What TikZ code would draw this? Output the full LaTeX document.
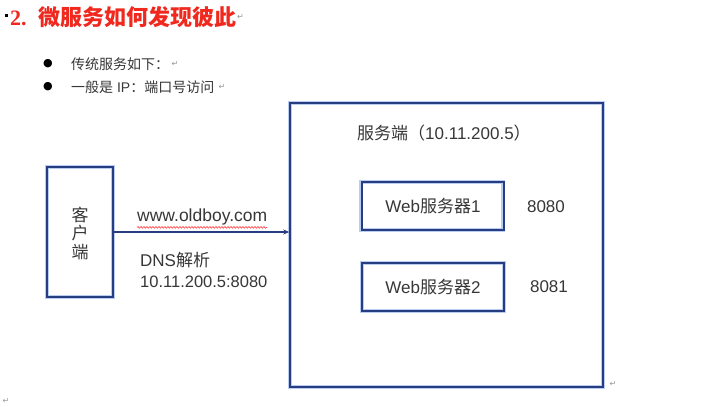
\documentclass[tikz,border=0pt]{standalone}
\usepackage{fontspec}
\setmainfont{Liberation Sans}
\newfontfamily\cjk{Noto Sans CJK SC}
\newfontfamily\titleserif{Liberation Serif}
\newfontfamily\symf{DejaVu Sans}
\usetikzlibrary{arrows.meta,decorations.pathmorphing}
\definecolor{boxblue}{RGB}{40,60,130}
\definecolor{glow}{RGB}{185,205,240}
\definecolor{txt}{RGB}{55,55,55}
\definecolor{titlered}{RGB}{240,40,30}
\definecolor{mark}{RGB}{150,150,150}
\tikzset{
  boxglow/.style={draw=glow, line width=4pt},
  boxline/.style={draw=boxblue, line width=1.6pt},
  lbl/.style={text=txt, inner sep=0pt, font=\fontsize{17}{19}\selectfont},
  smalllbl/.style={text=txt, inner sep=0pt, font=\fontsize{14}{16}\selectfont},
  conn/.style={draw=boxblue, line width=1.4pt, -{Stealth[length=6pt,width=5pt]}},
  retmark/.style={text=mark, inner sep=0pt, font=\symf\fontsize{8}{9}\selectfont},
}
\begin{document}
\begin{tikzpicture}[x=1pt,y=-1pt]
\fill[white] (0,0) rectangle (702,407);
\useasboundingbox (0,0) rectangle (702,407);
% title
\fill[black] (4.5,13.5) rectangle (7.5,16.5);
\node[anchor=west, inner sep=0pt, text=titlered, font=\fontsize{22}{25}\selectfont] (title) at (10,17)
  {{\titleserif\bfseries 2.}\hspace{12pt}{\cjk\bfseries 微服务如何发现彼此}};
\node[retmark, anchor=west] (rt) at (title.east) {↵};
% bullets
\node[inner sep=0pt, font=\symf\fontsize{11}{12}\selectfont] (b1) at (48,64) {●};
\node[inner sep=0pt, font=\symf\fontsize{11}{12}\selectfont] (b2) at (48,87) {●};
\node[smalllbl, anchor=west] (t1) at (71,64) {\cjk 传统服务如下：};
\node[smalllbl, anchor=west] (t2) at (71,87) {{\cjk 一般是} IP{\cjk ：端口号访问}};
\node[retmark, anchor=west] at ([xshift=2pt]t1.east) {↵};
\node[retmark, anchor=west] at ([xshift=4pt]t2.east) {↵};
% boxes
\foreach \n/\x/\y/\w/\h in {client/80/232/66/130, server/446.5/245/313/284, webA/432/206/142/48, webB/433/287/142/48}{
  \path[boxglow] (\x-\w/2,\y-\h/2) rectangle (\x+\w/2,\y+\h/2);
}
\node[boxline, minimum width=66pt, minimum height=130pt, inner sep=0pt] (client) at (80,232) {};
\node[boxline, minimum width=313pt, minimum height=284pt, inner sep=0pt] (server) at (446.5,245) {};
\node[boxline, minimum width=142pt, minimum height=48pt, inner sep=0pt, lbl] (web1) at (433,206) {Web{\cjk 服务器}1};
\node[boxline, minimum width=142pt, minimum height=48pt, inner sep=0pt, lbl] (web2) at (433,287) {Web{\cjk 服务器}2};
\node[lbl, align=center, font=\cjk\fontsize{17}{18.5}\selectfont] (clienttxt) at (80,233) {客\\户\\端};
\node[lbl] (p1) at (546,207) {8080};
\node[lbl] (p2) at (549,287) {8081};
\node[lbl, anchor=west] (srvtxt) at (357,133) {{\cjk 服务端（}10.11.200.5{\cjk ）}};
\node[retmark] at (613,384) {↵};
\node[retmark] at (6,401) {↵};
% connector
\draw[conn] (client.east) -- (client.east -| server.west);
\node[lbl, anchor=west, font=\fontsize{17.5}{19}\selectfont] (url) at (137,217) {www.oldboy.com};
\draw[red!80, line width=0.6pt, decorate, decoration={snake, amplitude=0.8pt, segment length=3pt}]
  ([yshift=-2pt]url.south west) -- ([yshift=-2pt]url.south east);
\node[lbl, anchor=west] (dns) at (140,260) {DNS{\cjk 解析}};
\node[lbl, anchor=west, font=\fontsize{16.5}{19}\selectfont] (ip) at (140,282) {10.11.200.5:8080};
\end{tikzpicture}
\end{document}
